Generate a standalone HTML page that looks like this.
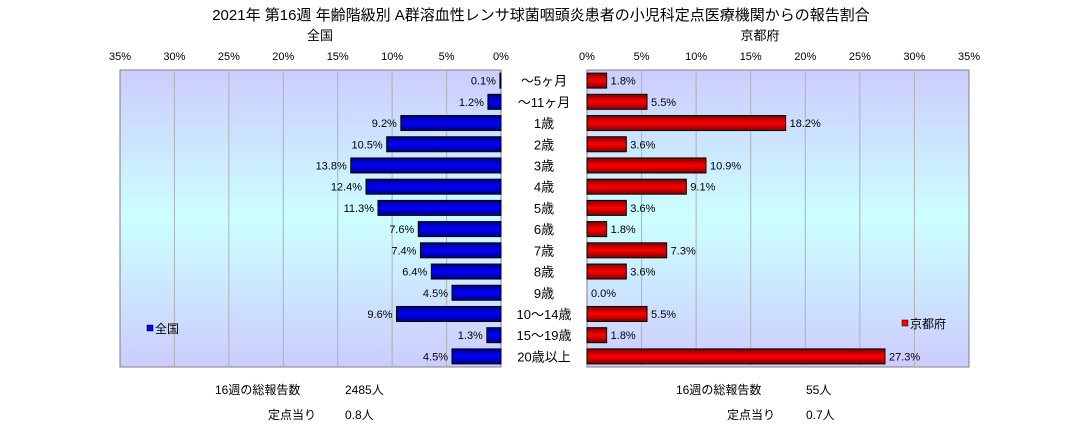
<!DOCTYPE html>
<html><head><meta charset="utf-8"><style>
body{margin:0;background:#fff;}
svg text{font-family:"Liberation Sans","Noto Sans CJK JP",sans-serif;}
</style></head><body>
<svg width="1083" height="429" viewBox="0 0 1083 429" xmlns="http://www.w3.org/2000/svg">
<defs>
<linearGradient id="bg" x1="0" y1="0" x2="0" y2="1">
<stop offset="0" stop-color="#ccccff"/><stop offset="0.5" stop-color="#ccffff"/><stop offset="1" stop-color="#ccccff"/>
</linearGradient>
<linearGradient id="gb" x1="0" y1="0" x2="0" y2="1">
<stop offset="0" stop-color="#000080"/><stop offset="0.5" stop-color="#0000ff"/><stop offset="1" stop-color="#000080"/>
</linearGradient>
<linearGradient id="gr" x1="0" y1="0" x2="0" y2="1">
<stop offset="0" stop-color="#800000"/><stop offset="0.5" stop-color="#ff0000"/><stop offset="1" stop-color="#800000"/>
</linearGradient>
</defs>
<text x="541" y="20" font-size="15" text-anchor="middle">2021年 第16週 年齢階級別 A群溶血性レンサ球菌咽頭炎患者の小児科定点医療機関からの報告割合</text>
<text x="320" y="40" font-size="13" text-anchor="middle">全国</text>
<text x="760" y="40" font-size="13" text-anchor="middle">京都府</text>
<g id="L"></g><g id="R"></g><g id="C"></g>
<rect x="147" y="325" width="6" height="6" fill="#0000ff" stroke="#000" stroke-width="0.5"/>
<text x="155" y="333" font-size="12">全国</text>
<rect x="902" y="320" width="6" height="6" fill="#ff0000" stroke="#000" stroke-width="0.5"/>
<text x="910" y="328" font-size="12">京都府</text>
<text x="215" y="394" font-size="12">16週の総報告数</text>
<text x="345" y="394" font-size="12">2485人</text>
<text x="268" y="419" font-size="12">定点当り</text>
<text x="345" y="419" font-size="12">0.8人</text>
<text x="676" y="394" font-size="12">16週の総報告数</text>
<text x="806" y="394" font-size="12">55人</text>
<text x="727" y="419" font-size="12">定点当り</text>
<text x="806" y="419" font-size="12">0.7人</text>
</svg>
<script>
const categories=["～5ヶ月","～11ヶ月","1歳","2歳","3歳","4歳","5歳","6歳","7歳","8歳","9歳","10～14歳","15～19歳","20歳以上"];
const nationalValues=[0.1,1.2,9.2,10.5,13.8,12.4,11.3,7.6,7.4,6.4,4.5,9.6,1.3,4.5];
const kyotoValues=[1.8,5.5,18.2,3.6,10.9,9.1,3.6,1.8,7.3,3.6,0.0,5.5,1.8,27.3];
const tickValues=[0,5,10,15,20,25,30,35];
const NS="http://www.w3.org/2000/svg";
const top_=70,bot=367,L0=501,LW=381,R0=587,RW=382,max=35;
const xl=v=>L0-v/max*LW, xr=v=>R0+v/max*RW;
const band=(bot-top_)/categories.length, yc=i=>top_+band*(i+0.5);
function mk(p,tag,a,txt){const e=document.createElementNS(NS,tag);for(const k in a)e.setAttribute(k,a[k]);if(txt!=null)e.textContent=txt;p.appendChild(e);return e;}
const gL=document.getElementById('L'),gR=document.getElementById('R'),gC=document.getElementById('C');
let bg=mk(gL,'rect',{x:xl(max),y:top_,width:LW,height:bot-top_,fill:'url(#bg)',stroke:'#808080'});


bg=mk(gR,'rect',{x:R0,y:top_,width:RW,height:bot-top_,fill:'url(#bg)',stroke:'#808080'});


tickValues.forEach(t=>{
 if(t>0&&t<max){mk(gL,'line',{x1:xl(t),x2:xl(t),y1:top_,y2:bot,stroke:'#b0b0b0'});mk(gR,'line',{x1:xr(t),x2:xr(t),y1:top_,y2:bot,stroke:'#b0b0b0'});}
 let a=mk(gL,'text',{x:xl(t),y:60,'font-size':11,'text-anchor':'middle'},t+'%');
 
 
 a=mk(gR,'text',{x:xr(t),y:60,'font-size':11,'text-anchor':'middle'},t+'%');
 
 
});
const bh=15;
categories.forEach((c,i)=>{
 const y=yc(i);
 const v=nationalValues[i];
 let b=mk(gL,'rect',{x:xl(v),y:y-bh/2,width:L0-xl(v),height:bh,fill:'url(#gb)',stroke:'#000'});
 
 
 let t=mk(gL,'text',{x:xl(v)-4,y:y+4,'font-size':11,'text-anchor':'end'},v.toFixed(1)+'%');
 
 
 const k=kyotoValues[i];
 b=mk(gR,'rect',{x:R0,y:y-bh/2,width:xr(k)-R0,height:bh,fill:'url(#gr)',stroke:'#000'});
 
 
 t=mk(gR,'text',{x:xr(k)+4,y:y+4,'font-size':11},k.toFixed(1)+'%');
 
 
 t=mk(gC,'text',{x:544,y:y+5,'font-size':13,'text-anchor':'middle'},c);
 
 
});
</script>
</body></html>
